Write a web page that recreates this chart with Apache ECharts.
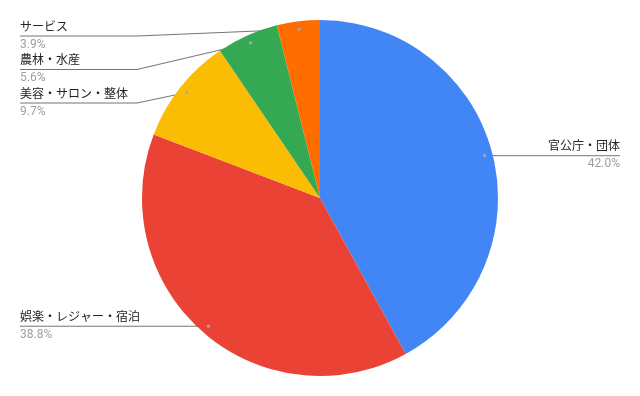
<!DOCTYPE html>
<html>
<head>
<meta charset="utf-8">
<script src="https://cdn.jsdelivr.net/npm/echarts@6/dist/echarts.min.js"></script>
<style>
html,body{margin:0;padding:0;background:#fff;}
#chart{width:640px;height:396px;}
</style>
</head>
<body>
<div id="chart"></div>
<script>
const categories = ['官公庁・団体', '娯楽・レジャー・宿泊', '美容・サロン・整体', '農林・水産', 'サービス'];
const values = [42.0, 38.8, 9.7, 5.6, 3.9];
const colors = ['#4285F4', '#EA4335', '#FBBC04', '#34A853', '#FF6D01'];

const chart = echarts.init(document.getElementById('chart'), null, {renderer: 'canvas'});
const W = 640, H = 396;
const cx = W / 2, cy = H / 2;
const R = 178;
const dotK = 170 / 178;
const edge = 20, breakOff = 117, minTop = 36, gap = 33.5;
const dots = {};
const FONT = 'Roboto, "Noto Sans CJK JP", sans-serif';

function lineYFor(idx) {
  const d = dots[idx];
  const left = d[0] < cx;
  const same = Object.keys(dots).map(Number)
    .filter(k => (dots[k][0] < cx) === left)
    .sort((a, b) => dots[a][1] - dots[b][1]);
  let prev = -Infinity, res = d[1];
  for (const k of same) {
    let y = Math.max(dots[k][1], prev + gap, minTop);
    if (k === idx) { res = y; break; }
    prev = y;
  }
  return res;
}

function labelLayout(params) {
  const p0 = params.labelLinePoints[0];
  const dot = [cx + (p0[0] - cx) * dotK, cy + (p0[1] - cy) * dotK];
  dots[params.dataIndex] = dot;
  const left = dot[0] < cx;
  const ly = lineYFor(params.dataIndex);
  const ex = left ? edge : W - edge;
  const bx = left ? edge + breakOff : W - edge - breakOff;
  return {
    x: ex, y: ly,
    align: left ? 'left' : 'right',
    verticalAlign: 'middle',
    labelLinePoints: [dot, [bx, ly], [ex, ly]]
  };
}

function buildOption(withDots) {
  const opt = {
    animation: false,
    backgroundColor: '#ffffff',
    series: [{
      type: 'pie',
      center: [cx, cy],
      radius: R,
      startAngle: 90,
      clockwise: true,
      silent: true,
      avoidLabelOverlap: false,
      data: categories.map((c, i) => ({name: c, value: values[i], itemStyle: {color: colors[i]}})),
      label: {
        show: true,
        position: 'outer',
        fontFamily: FONT,
        formatter: p => '{n|' + p.name + '}\n{v|' + values[p.dataIndex].toFixed(1) + '%}',
        rich: {
          n: {fontSize: 12, color: '#222222', lineHeight: 17, fontFamily: FONT},
          v: {fontSize: 12, color: '#9e9e9e', lineHeight: 17, fontFamily: FONT}
        }
      },
      labelLine: {
        show: true,
        length: 5,
        length2: 5,
        lineStyle: {color: '#757575', width: 1}
      },
      labelLayout: labelLayout
    }]
  };
  if (withDots) {
    opt.graphic = Object.keys(dots).map(k => ({
      type: 'circle',
      shape: {cx: dots[k][0], cy: dots[k][1], r: 1.6},
      style: {fill: '#a8a8a8'},
      z: 100,
      silent: true
    }));
  }
  return opt;
}

chart.setOption(buildOption(false));
chart.setOption(buildOption(true), true);
</script>
</body>
</html>
